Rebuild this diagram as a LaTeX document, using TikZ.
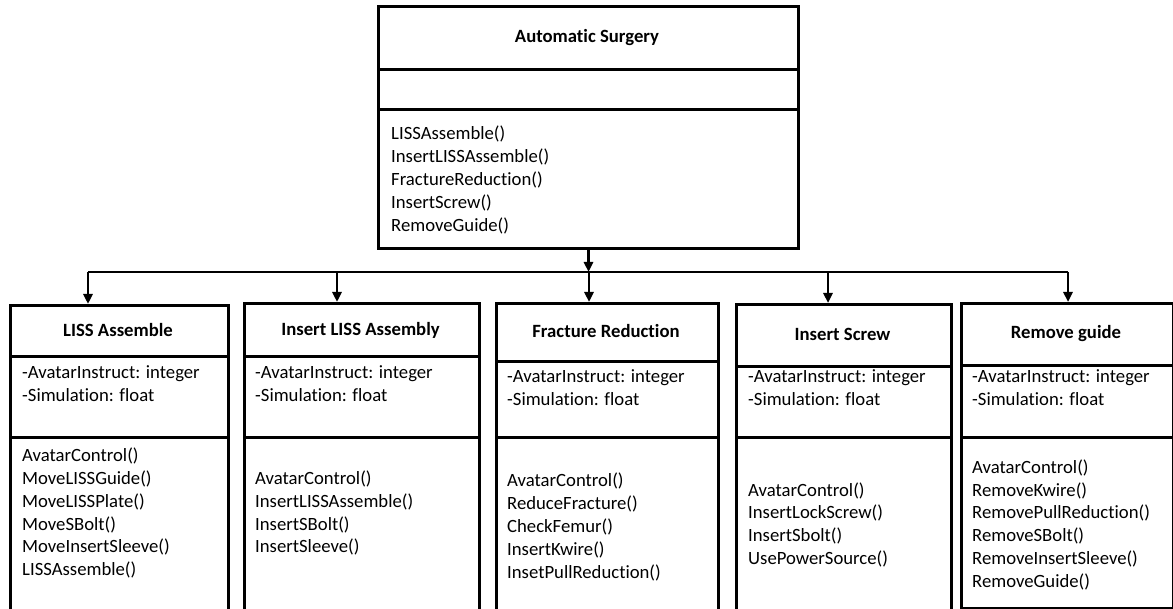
\documentclass[tikz,border=0pt]{standalone}
\usepackage{fontspec}
\setmainfont{Carlito}[Ligatures=NoCommon]
\usetikzlibrary{arrows.meta}

% one text block: lines set 23pt apart, first baseline at the node's base
\newcommand{\lines}[1]{\parbox[t]{220pt}{\fontsize{18.7}{23}\selectfont\raggedright #1}}

\begin{document}
\begin{tikzpicture}[x=1pt,y=-1pt,
  part/.style={draw,line width=3pt,rectangle,inner sep=0pt,anchor=north west},
  title/.style={inner sep=0pt,anchor=base,font=\fontsize{18.7}{23}\selectfont\bfseries},
  body/.style={inner sep=0pt,anchor=base west},
  link/.style={line width=2.6pt},
  arr/.style={link,-{Triangle[length=10pt,width=9pt]}}]
\useasboundingbox (0,0) rectangle (1173,609);
\clip (0,0) rectangle (1173,609);

% ---- parent class ----
\node[part,minimum width=420pt,minimum height=63pt]  (c0h) at (377,5)   {};
\node[part,minimum width=420pt,minimum height=40pt]  (c0a) at (377,68)  {};
\node[part,minimum width=420pt,minimum height=139pt] (c0m) at (377,108) {};
\node[title] (c0t) at (587,43) {Automatic Surgery};
\node[body]  (c0o) at (391,140) {\lines{LISSAssemble()\\InsertLISSAssemble()\\FractureReduction()\\InsertScrew()\\RemoveGuide()}};

% ---- LISS Assemble ----
\node[part,minimum width=218pt,minimum height=51pt]  (c1h) at (9,304) {};
\node[part,minimum width=218pt,minimum height=81pt]  (c1a) at (9,355) {};
\node[part,minimum width=218pt,minimum height=200pt] (c1m) at (9,436) {};
\node[title] (c1t) at (118,337) {LISS Assemble};
\node[body]  (c1v) at (22,379) {\lines{-AvatarInstruct: integer\\-Simulation: float}};
\node[body]  (c1o) at (22,461) {\lines{AvatarControl()\\MoveLISSGuide()\\MoveLISSPlate()\\MoveSBolt()\\MoveInsertSleeve()\\LISSAssemble()}};

% ---- Insert LISS Assembly ----
\node[part,minimum width=235pt,minimum height=53pt]  (c2h) at (243,302) {};
\node[part,minimum width=235pt,minimum height=81pt]  (c2a) at (243,355) {};
\node[part,minimum width=235pt,minimum height=200pt] (c2m) at (243,436) {};
\node[title] (c2t) at (360.5,336) {Insert LISS Assembly};
\node[body]  (c2v) at (255,379) {\lines{-AvatarInstruct: integer\\-Simulation: float}};
\node[body]  (c2o) at (255,484) {\lines{AvatarControl()\\InsertLISSAssemble()\\InsertSBolt()\\InsertSleeve()}};

% ---- Fracture Reduction ----
\node[part,minimum width=222pt,minimum height=58pt]  (c3h) at (495,302) {};
\node[part,minimum width=222pt,minimum height=76pt]  (c3a) at (495,360) {};
\node[part,minimum width=222pt,minimum height=200pt] (c3m) at (495,436) {};
\node[title] (c3t) at (606,338) {Fracture Reduction};
\node[body]  (c3v) at (507,383) {\lines{-AvatarInstruct: integer\\-Simulation: float}};
\node[body]  (c3o) at (507,486) {\lines{AvatarControl()\\ReduceFracture()\\CheckFemur()\\InsertKwire()\\InsetPullReduction()}};

% ---- Insert Screw ----
\node[part,minimum width=215pt,minimum height=62pt]  (c4h) at (735,303) {};
\node[part,minimum width=215pt,minimum height=71pt]  (c4a) at (735,365) {};
\node[part,minimum width=215pt,minimum height=200pt] (c4m) at (735,436) {};
\node[title] (c4t) at (842.5,341) {Insert Screw};
\node[body]  (c4v) at (748,383) {\lines{-AvatarInstruct: integer\\-Simulation: float}};
\node[body]  (c4o) at (748,496) {\lines{AvatarControl()\\InsertLockScrew()\\InsertSbolt()\\UsePowerSource()}};

% ---- Remove guide ----
\node[part,minimum width=212pt,minimum height=62pt]  (c5h) at (960,302) {};
\node[part,minimum width=212pt,minimum height=72pt]  (c5a) at (960,364) {};
\node[part,minimum width=212pt,minimum height=171pt] (c5m) at (960,436) {};
\node[title] (c5t) at (1066,339) {Remove guide};
\node[body]  (c5v) at (972,383) {\lines{-AvatarInstruct: integer\\-Simulation: float}};
\node[body]  (c5o) at (972,473) {\lines{AvatarControl()\\RemoveKwire()\\RemovePullReduction()\\RemoveSBolt()\\RemoveInsertSleeve()\\RemoveGuide()}};

% ---- distribution bus ----
\coordinate (b1) at (88,272);
\coordinate (b2) at (337,272);
\coordinate (b3) at (589,272);
\coordinate (b4) at (828,272);
\coordinate (b5) at (1068,272);
\draw[link] (b1) -- (b5);
\draw[arr] (c0m.south) -- (c0m.south |- b3);
\draw[arr] (b1) -- (b1 |- c1h.north);
\draw[arr] (b2) -- (b2 |- c2h.north);
\draw[arr] (b3) -- (b3 |- c3h.north);
\draw[arr] (b4) -- (b4 |- c4h.north);
\draw[arr] (b5) -- (b5 |- c5h.north);
\end{tikzpicture}
\end{document}
